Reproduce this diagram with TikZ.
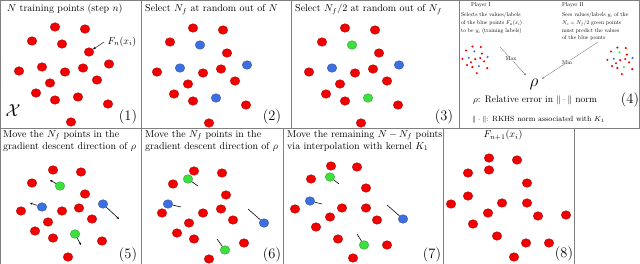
\documentclass[tikz,border=0pt]{standalone}
\usepackage{amsmath}
\usepackage{xcolor}
\usetikzlibrary{arrows.meta, positioning, shapes.geometric}
\definecolor{PtRed}{HTML}{F20000}
\definecolor{PtBlue}{HTML}{3C6FE0}
\definecolor{PtGreen}{HTML}{3CE03C}
\definecolor{FrameGray}{HTML}{808080}
% point sets (panel 1 coordinates)
\newcommand{\ptsA}{55/27/PtRed, 85/29/PtRed, 32/41/PtRed, 62/44/PtRed, 89/52/PtRed, 19/71/PtRed, 42/67/PtRed, 65/72/PtRed, 83/68/PtRed, 109/64/PtRed, 50/83/PtRed, 97/80/PtRed, 36/93/PtRed, 55/100/PtRed, 78/97/PtRed, 108/104/PtRed, 71/122/PtRed}
\newcommand{\ptsB}{55/27/PtRed, 85/29/PtRed, 32/41/PtRed, 62/44/PtBlue, 89/52/PtRed, 19/71/PtRed, 42/67/PtBlue, 65/72/PtRed, 83/68/PtRed, 109/64/PtBlue, 50/83/PtRed, 97/80/PtRed, 36/93/PtRed, 55/100/PtRed, 78/97/PtBlue, 108/104/PtRed, 71/122/PtRed}
\newcommand{\ptsC}{55/27/PtRed, 85/29/PtRed, 32/41/PtRed, 62/44/PtGreen, 89/52/PtRed, 19/71/PtRed, 42/67/PtBlue, 65/72/PtRed, 83/68/PtRed, 109/64/PtBlue, 50/83/PtRed, 97/80/PtRed, 36/93/PtRed, 55/100/PtRed, 78/97/PtGreen, 108/104/PtRed, 71/122/PtRed}

\begin{document}
\begin{tikzpicture}[
    x=1pt, y=-1pt,
    every node/.style={font=\normalsize},
    pnt/.style={ellipse, draw=#1!65!black, fill=#1, line width=0.3pt, minimum width=9.6pt, minimum height=8.6pt, inner sep=0pt},
    panelframe/.style={draw=FrameGray, line width=0.8pt},
    paneltitle/.style={anchor=base west, inner sep=0pt},
    steplabel/.style={font=\Large, inner sep=0pt},
    movearrow/.style={-{Stealth[length=2.5pt, width=2.2pt]}, line width=0.6pt},
    trace/.style={line width=0.6pt},
    smalltext/.style={font=\fontsize{10}{13.8}\selectfont, scale=0.56, transform shape, inner sep=0pt},
    gamearrow/.style={draw=gray, line width=0.4pt, -{Stealth[length=2.5pt, width=2pt]}}
]
\useasboundingbox (0,0) rectangle (640,264);

% Frames
\draw[panelframe] (0.5,0.5) rectangle (639.5,128);
\draw[panelframe] (141,0.5) -- (141,264);
\draw[panelframe] (291,0.5) -- (291,128);
\draw[panelframe] (459,0.5) -- (459,128);
\draw[panelframe] (0.5,128) -- (0.5,264);
\draw[panelframe] (283,128) -- (283,264);
\draw[panelframe] (443,128) -- (443,264);
\draw[panelframe] (574,128) -- (574,264);

% Panel 1
\node[paneltitle] (t1) at (7,12) {$N$ training points (step $n$)};
\foreach \x/\y/\c [count=\i] in \ptsA
    \node[pnt=\c] (a\i) at (\x,\y) {};
\node (fnlab) at (122,42) {$F_n(x_i)$};
\draw[-{Stealth[length=3pt, width=2.4pt]}, line width=0.4pt] (fnlab.west) -- (a5);
\node[font=\LARGE] (space) at (13,111) {$\mathcal{X}$};
\node[steplabel] (n1) at (128,117) {(1)};

% Panel 2
\node[paneltitle] (t2) at (145,12) {Select $N_f$ at random out of $N$};
\begin{scope}[shift={(138,1)}]
\foreach \x/\y/\c [count=\i] in \ptsB
    \node[pnt=\c] (b\i) at (\x,\y) {};
\end{scope}
\node[steplabel] (n2) at (272,117) {(2)};

% Panel 3
\node[paneltitle] (t3) at (295,12) {Select $N_f/2$ at random out of $N_f$};
\begin{scope}[shift={(290,1)}]
\foreach \x/\y/\c [count=\i] in \ptsC
    \node[pnt=\c] (c\i) at (\x,\y) {};
\end{scope}
\node[steplabel] (n3) at (444,117) {(3)};

% Panel 4: the game
\node[smalltext, anchor=base west] (pl1) at (471,7) {Player I};
\node[smalltext, anchor=north west, align=left] (pl1text) at (461,12.5) {Selects the values/labels\\of the blue points $F_n(x_i)$\\to be $y_i$ (training labels)};
\node[smalltext, anchor=base west] (pl2) at (562,7) {Player II};
\node[smalltext, anchor=north west, align=left] (pl2text) at (562,12.5) {Sees values/labels $y_i$ of the\\$N_c=N_f/2$ green points\\must predict the values\\of the blue points};
\begin{scope}[shift={(457,39)}, scale=0.28]
\foreach \x/\y/\c in \ptsB
    \fill[\c] (\x,\y) circle[radius=4.2];
\end{scope}
\begin{scope}[shift={(602,40)}, scale=0.28]
\foreach \x/\y/\c in \ptsC
    \fill[\c] (\x,\y) circle[radius=4.2];
\end{scope}
\node[font=\fontsize{18}{20}\selectfont] (rho) at (534,84) {$\rho$};
\coordinate (maxs) at (500,47);
\coordinate (mins) at (598,42);
\draw[gamearrow] (maxs) -- node[smalltext, fill=white, pos=0.42] {Max} (rho);
\draw[gamearrow] (mins) -- node[smalltext, fill=white, pos=0.55] {Min} (rho);
\node[anchor=base west, inner sep=0pt, font=\fontsize{9.5}{11}\selectfont] (rhodef) at (473,103) {$\rho$: Relative error in $\|\cdot\|$ norm};
\node[anchor=base west, inner sep=0pt, font=\fontsize{7.5}{9}\selectfont] (normdef) at (472,122) {$\|\cdot\|$: RKHS norm associated with $K_1$};
\node[steplabel] (n4) at (630,100) {(4)};

% Panel 5
\node[paneltitle, anchor=north west, align=left] (t5) at (3,130) {Move the $N_f$ points in the\\gradient descent direction of $\rho$};
\foreach \x/\y/\c [count=\i] in {53/170/PtRed, 81/172/PtRed, 32/183/PtRed, 60/186/PtGreen, 85/194/PtRed, 21/211/PtRed, 42/207/PtBlue, 62/211/PtRed, 79/208/PtRed, 103/204/PtBlue, 48/222/PtRed, 92/219/PtRed, 35/231/PtRed, 53/238/PtRed, 75/234/PtGreen, 102/241/PtRed, 68/257/PtRed}
    \node[pnt=\c] (e\i) at (\x,\y) {};
\coordinate (e4t) at (50,180);
\coordinate (e7t) at (30,203);
\coordinate (e10t) at (119,219);
\coordinate (e15t) at (81,245);
\draw[movearrow] (e4) -- (e4t);
\draw[movearrow] (e7) -- (e7t);
\draw[movearrow] (e10) -- (e10t);
\draw[movearrow] (e15) -- (e15t);
\node[steplabel] (n5) at (128,255) {(5)};

% Panel 6
\node[paneltitle, anchor=north west, align=left] (t6) at (145,130) {Move the $N_f$ points in the\\gradient descent direction of $\rho$};
\foreach \x/\y/\c [count=\i] in {194/171/PtRed, 222/173/PtRed, 173/184/PtRed, 188/179/PtGreen, 226/195/PtRed, 162/213/PtRed, 168/204/PtBlue, 203/213/PtRed, 221/209/PtRed, 264/223/PtBlue, 189/223/PtRed, 233/220/PtRed, 177/233/PtRed, 194/239/PtRed, 225/250/PtGreen, 244/243/PtRed, 209/259/PtRed}
    \node[pnt=\c] (f\i) at (\x,\y) {};
\coordinate (f4o) at (198,186);
\coordinate (f7o) at (181,207);
\coordinate (f10o) at (248,209);
\coordinate (f15o) at (217,239);
\draw[trace] (f4o) -- (f4);
\draw[trace] (f7o) -- (f7);
\draw[trace] (f10o) -- (f10);
\draw[trace] (f15o) -- (f15);
\node[steplabel] (n6) at (272,255) {(6)};

% Panel 7
\node[paneltitle, anchor=north west, align=left] (t7) at (287,130) {Move the remaining $N-N_f$ points\\via interpolation with kernel $K_1$};
\foreach \x/\y/\c [count=\i] in {331/166/PtRed, 357/167/PtRed, 311/179/PtRed, 330/177/PtGreen, 366/188/PtRed, 295/209/PtRed, 310/201/PtBlue, 342/208/PtRed, 366/208/PtRed, 403/219/PtBlue, 330/217/PtRed, 377/220/PtRed, 316/227/PtRed, 338/239/PtRed, 364/245/PtGreen, 387/245/PtRed, 353/258/PtRed}
    \node[pnt=\c] (g\i) at (\x,\y) {};
\coordinate (g4o) at (339,184);
\coordinate (g7o) at (322,204);
\coordinate (g10o) at (387,205);
\coordinate (g15o) at (357,234);
\draw[trace] (g4o) -- (g4);
\draw[trace] (g7o) -- (g7);
\draw[trace] (g10o) -- (g10);
\draw[trace] (g15o) -- (g15);
\node[steplabel] (n7) at (432,255) {(7)};

% Panel 8
\node[anchor=base, inner sep=0pt] (t8) at (503,138) {$F_{n+1}(x_i)$};
\foreach \x/\y [count=\i] in {489/158, 517/160, 468/173, 489/170, 527/183, 451/204, 468/196, 502/203, 527/203, 488/213, 538/216, 566/215, 473/224, 497/236, 526/243, 549/243, 514/257}
    \node[pnt=PtRed] (h\i) at (\x,\y) {};
\node[steplabel] (n8) at (564,254) {(8)};

\end{tikzpicture}
\end{document}
